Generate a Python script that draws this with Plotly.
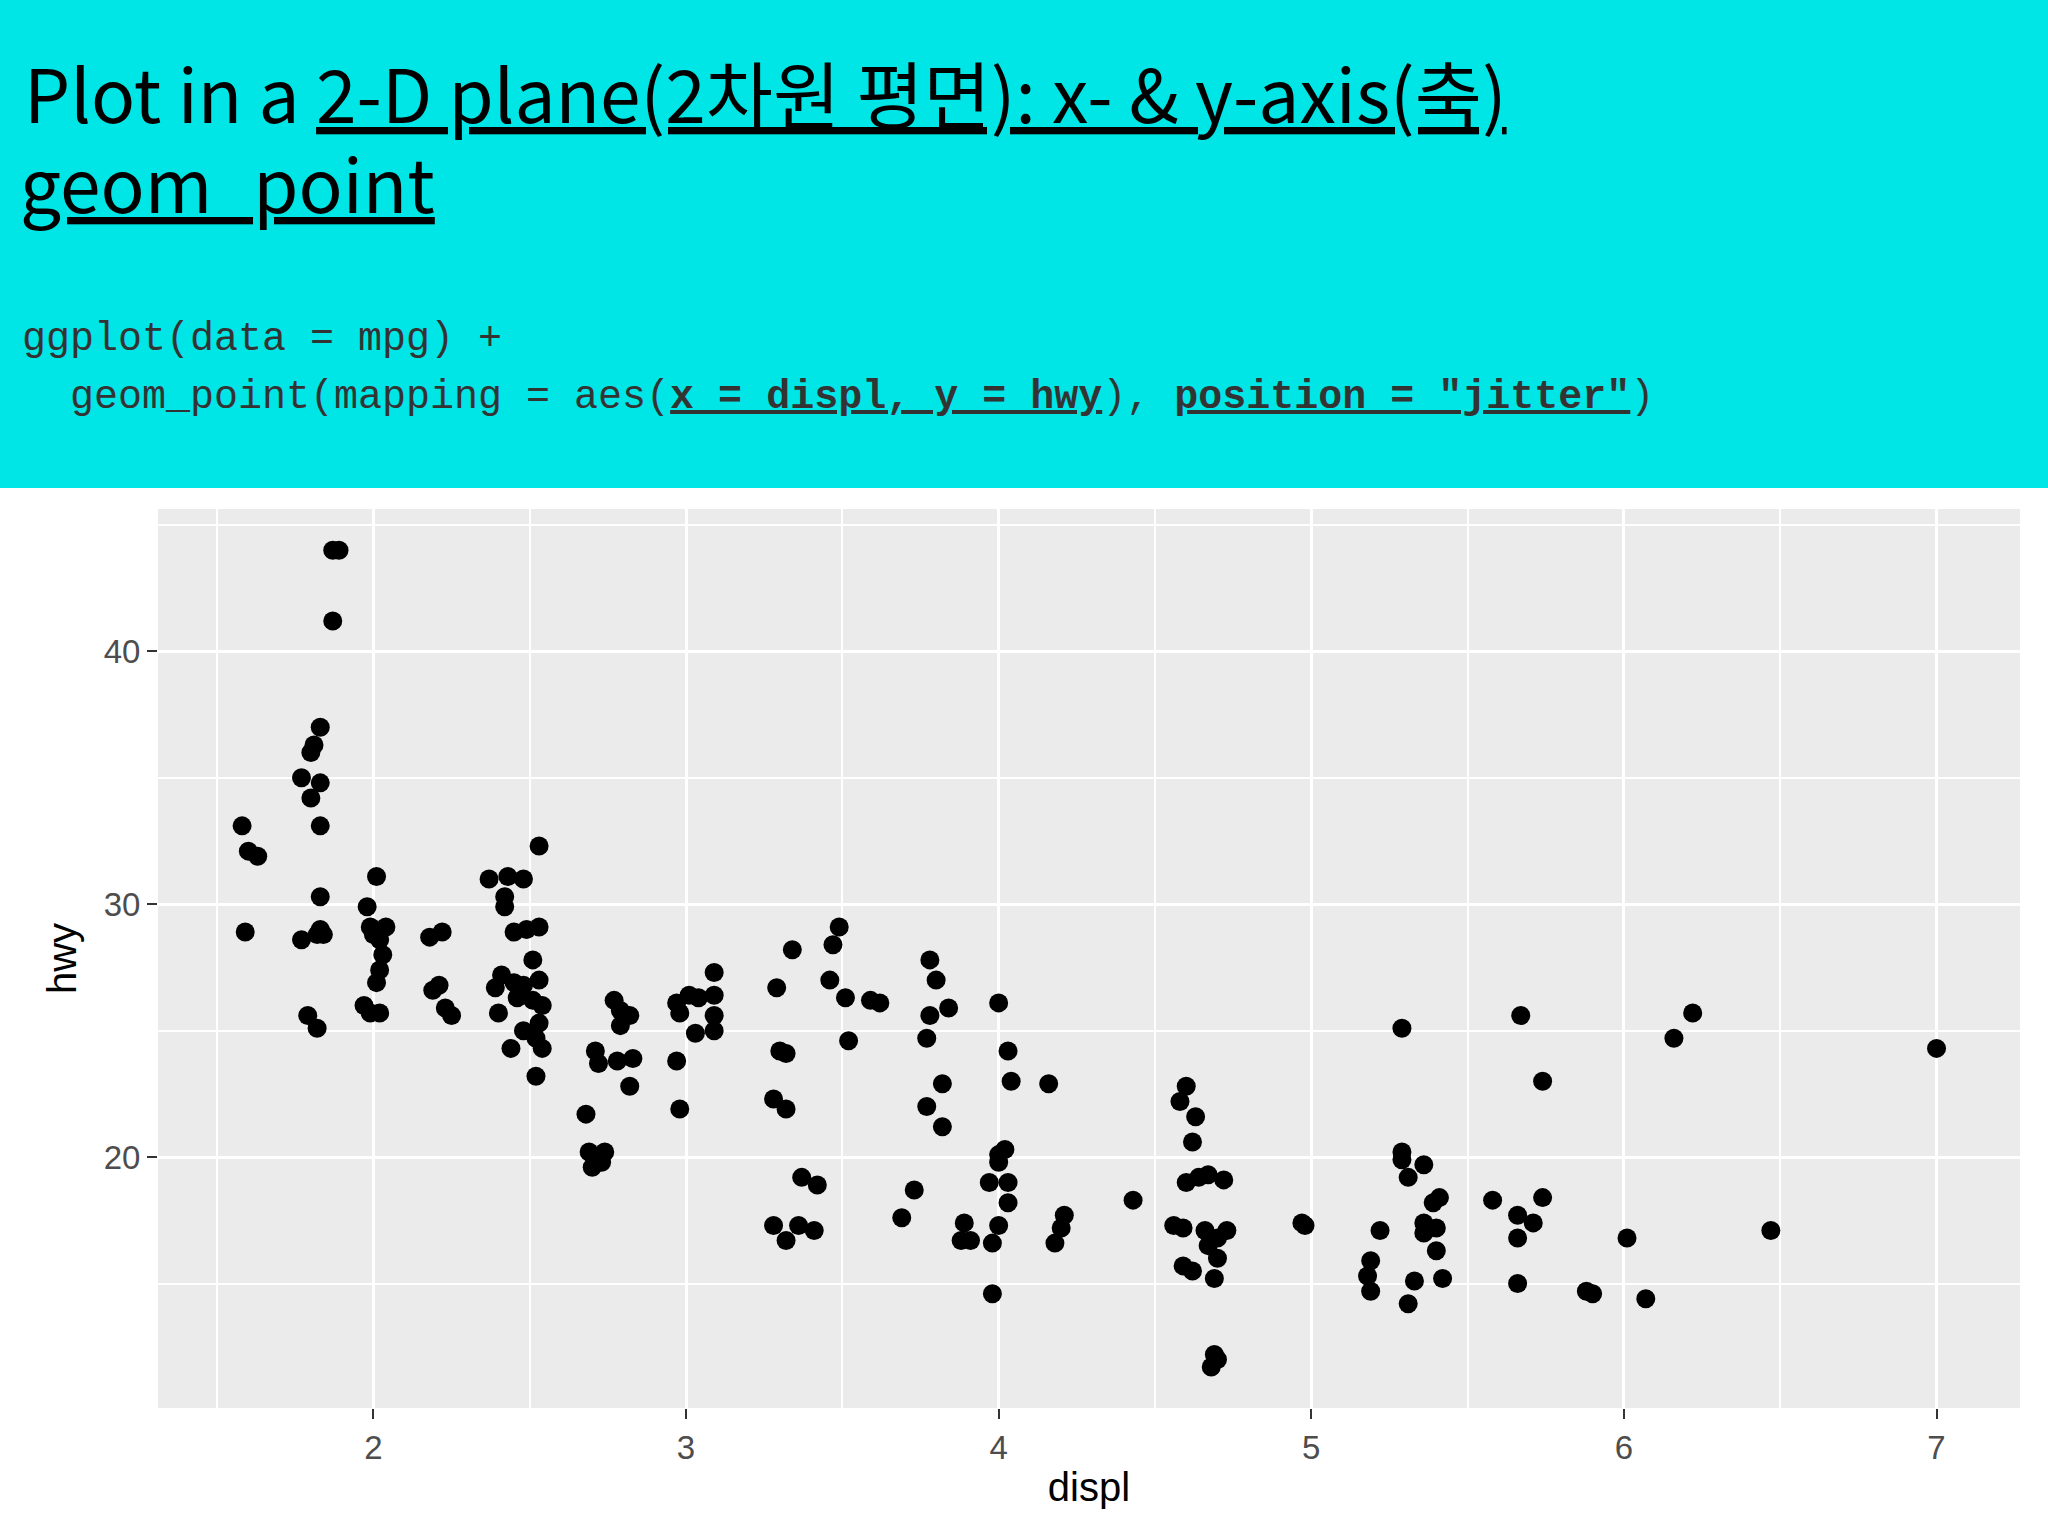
import plotly.graph_objects as go

# displ / hwy (mpg, jittered)
displ = [1.58, 1.60, 1.63, 1.59,
         1.87, 1.89, 1.87, 1.83, 1.81, 1.80, 1.77, 1.83, 1.80, 1.83, 1.83, 1.83, 1.82, 1.77, 1.84, 1.79, 1.82,
         2.01, 1.98, 1.99, 2.04, 2.00, 2.02, 2.03, 2.02, 2.01, 1.97, 1.99, 2.02, 2.00,
         2.18, 2.22, 2.21, 2.19, 2.23, 2.25,
         2.37, 2.43, 2.48, 2.42, 2.42, 2.53, 2.45, 2.49, 2.53, 2.51, 2.41, 2.45, 2.39, 2.48, 2.53, 2.46, 2.51,
         2.54, 2.40, 2.53, 2.48, 2.52, 2.44, 2.54, 2.52,
         2.68, 2.69, 2.74, 2.70, 2.73, 2.71, 2.72, 2.78, 2.83, 2.82, 2.77, 2.79, 2.82, 2.79,
         2.97, 2.98, 3.01, 3.04, 2.97, 2.98, 3.03, 3.09, 3.09, 3.09, 3.09,
         3.29, 3.34, 3.30, 3.32, 3.28, 3.32, 3.37, 3.42, 3.28, 3.36, 3.32, 3.41, 3.47, 3.49, 3.46, 3.51, 3.52,
         3.59, 3.62,
         3.78, 3.80, 3.78, 3.84, 3.77, 3.82, 3.77, 3.82, 3.73, 3.69, 3.89, 3.88, 3.91,
         4.00, 4.03, 4.04, 4.00, 4.02, 4.00, 3.97, 4.03, 4.03, 4.00, 3.98, 3.98, 4.16, 4.21, 4.20, 4.18,
         4.43,
         4.60, 4.58, 4.63, 4.62, 4.60, 4.64, 4.67, 4.72, 4.56, 4.59, 4.66, 4.73, 4.70, 4.67, 4.70, 4.59, 4.62,
         4.69, 4.69, 4.68, 4.70,
         4.97, 4.98,
         5.29, 5.29, 5.29, 5.36, 5.31, 5.22, 5.19, 5.18, 5.19, 5.31, 5.33, 5.36, 5.40, 5.36, 5.40, 5.39, 5.41,
         5.42,
         5.58, 5.67, 5.74, 5.74, 5.66, 5.71, 5.66, 5.66,
         5.88, 5.90,
         6.01, 6.07, 6.16, 6.22,
         6.47, 7.00]
hwy = [33.1, 32.1, 31.9, 28.9,
       44.0, 44.0, 41.2, 37.0, 36.3, 36.0, 35.0, 34.8, 34.2, 33.1, 30.3, 29.0, 28.8, 28.6, 28.8, 25.6, 25.1,
       31.1, 29.9, 29.1, 29.1, 28.8, 28.6, 28.0, 27.4, 26.9, 26.0, 25.7, 25.7, 29.0,
       28.7, 28.9, 26.8, 26.6, 25.9, 25.6,
       31.0, 31.1, 31.0, 30.3, 29.9, 32.3, 28.9, 29.0, 29.1, 27.8, 27.2, 26.9, 26.7, 26.8, 27.0, 26.3, 26.2,
       26.0, 25.7, 25.3, 25.0, 24.7, 24.3, 24.3, 23.2,
       21.7, 20.2, 20.2, 19.6, 19.8, 24.2, 23.7, 23.8, 23.9, 22.8, 26.2, 25.2, 25.6, 25.8,
       26.1, 25.7, 26.4, 26.3, 23.8, 21.9, 24.9, 27.3, 26.4, 25.6, 25.0,
       26.7, 28.2, 24.2, 24.1, 22.3, 21.9, 19.2, 18.9, 17.3, 17.3, 16.7, 17.1, 28.4, 29.1, 27.0, 26.3, 24.6,
       26.2, 26.1,
       27.8, 27.0, 25.6, 25.9, 24.7, 22.9, 22.0, 21.2, 18.7, 17.6, 17.4, 16.7, 16.7,
       26.1, 24.2, 23.0, 20.1, 20.3, 19.8, 19.0, 19.0, 18.2, 17.3, 16.6, 14.6, 22.9, 17.7, 17.2, 16.6,
       18.3,
       22.8, 22.2, 21.6, 20.6, 19.0, 19.2, 19.3, 19.1, 17.3, 17.2, 17.1, 17.1, 16.8, 16.5, 16.0, 15.7, 15.5,
       15.2, 12.2, 11.7, 12.0,
       17.4, 17.3,
       25.1, 20.2, 19.9, 19.7, 19.2, 17.1, 15.9, 15.3, 14.7, 14.2, 15.1, 17.4, 17.2, 17.0, 16.3, 18.2, 18.4,
       15.2,
       18.3, 25.6, 23.0, 18.4, 17.7, 17.4, 16.8, 15.0,
       14.7, 14.6,
       16.8, 14.4, 24.7, 25.7,
       17.1, 24.3]

x_ticks = [2, 3, 4, 5, 6, 7]
y_ticks = [20, 30, 40]

L, R, T, B = 158, 28, 509, 128
W, H = 2048, 1536

fig = go.Figure()
fig.add_trace(go.Scatter(x=displ, y=hwy, mode="markers",
                         marker=dict(color="black", size=19, line=dict(width=0))))

axis_common = dict(showgrid=True, gridcolor="white", gridwidth=3, zeroline=False,
                   ticks="outside", ticklen=10, tickwidth=2, tickcolor="#333333",
                   tickfont=dict(family="Liberation Sans", size=33, color="#4d4d4d"),
                   showline=False)

fig.update_layout(
    width=W, height=H,
    paper_bgcolor="white", plot_bgcolor="#ebebeb",
    margin=dict(l=L, r=R, t=T, b=B),
    showlegend=False,
    xaxis=dict(range=[1.311, 7.267], tickvals=x_ticks,
               minor=dict(dtick=1, tick0=1.5, showgrid=True, gridcolor="white", gridwidth=1.5, ticks=""),
               title=dict(text="displ", standoff=8, font=dict(family="Liberation Sans", size=40, color="black")),
               **axis_common),
    yaxis=dict(range=[10.08, 45.63], tickvals=y_ticks,
               minor=dict(dtick=10, tick0=15, showgrid=True, gridcolor="white", gridwidth=1.5, ticks=""),
               title=dict(text="hwy", standoff=14, font=dict(family="Liberation Sans", size=40, color="black")),
               **axis_common),
    shapes=[dict(type="rect", xref="paper", yref="paper", x0=-0.5, x1=1.5,
                 y0=(H - 488 - B) / (H - T - B), y1=2,
                 fillcolor="#00e5e5", line=dict(width=0), layer="below")],
)

ppx = lambda px: (px - L) / (W - L - R)
ppy = lambda py: (H - B - py) / (H - T - B)

title_font = dict(family="Noto Sans CJK KR", size=73, color="black")
fig.add_annotation(x=ppx(22), y=ppy(146), xref="paper", yref="paper", xanchor="left", yanchor="bottom",
                   showarrow=False, font=title_font,
                   text="Plot in a <u>2-D plane(2차원 평면): x- &amp; y-axis(축)</u>")
fig.add_annotation(x=ppx(18), y=ppy(236), xref="paper", yref="paper", xanchor="left", yanchor="bottom",
                   showarrow=False, font=title_font, text="<u>geom_point</u>")

code_font = dict(family="Liberation Mono", size=40, color="#333333")
fig.add_annotation(x=ppx(20), y=ppy(364), xref="paper", yref="paper", xanchor="left", yanchor="bottom",
                   showarrow=False, font=code_font, text="ggplot(data = mpg) +")
fig.add_annotation(x=ppx(20), y=ppy(422), xref="paper", yref="paper", xanchor="left", yanchor="bottom",
                   showarrow=False, font=code_font,
                   text='  geom_point(mapping = aes(<u><b>x = displ, y = hwy</b></u>), '
                        '<u><b>position = "jitter"</b></u>)')

fig.write_html("out.html", config={"displayModeBar": False},
               post_script="document.body.style.margin='0';")
